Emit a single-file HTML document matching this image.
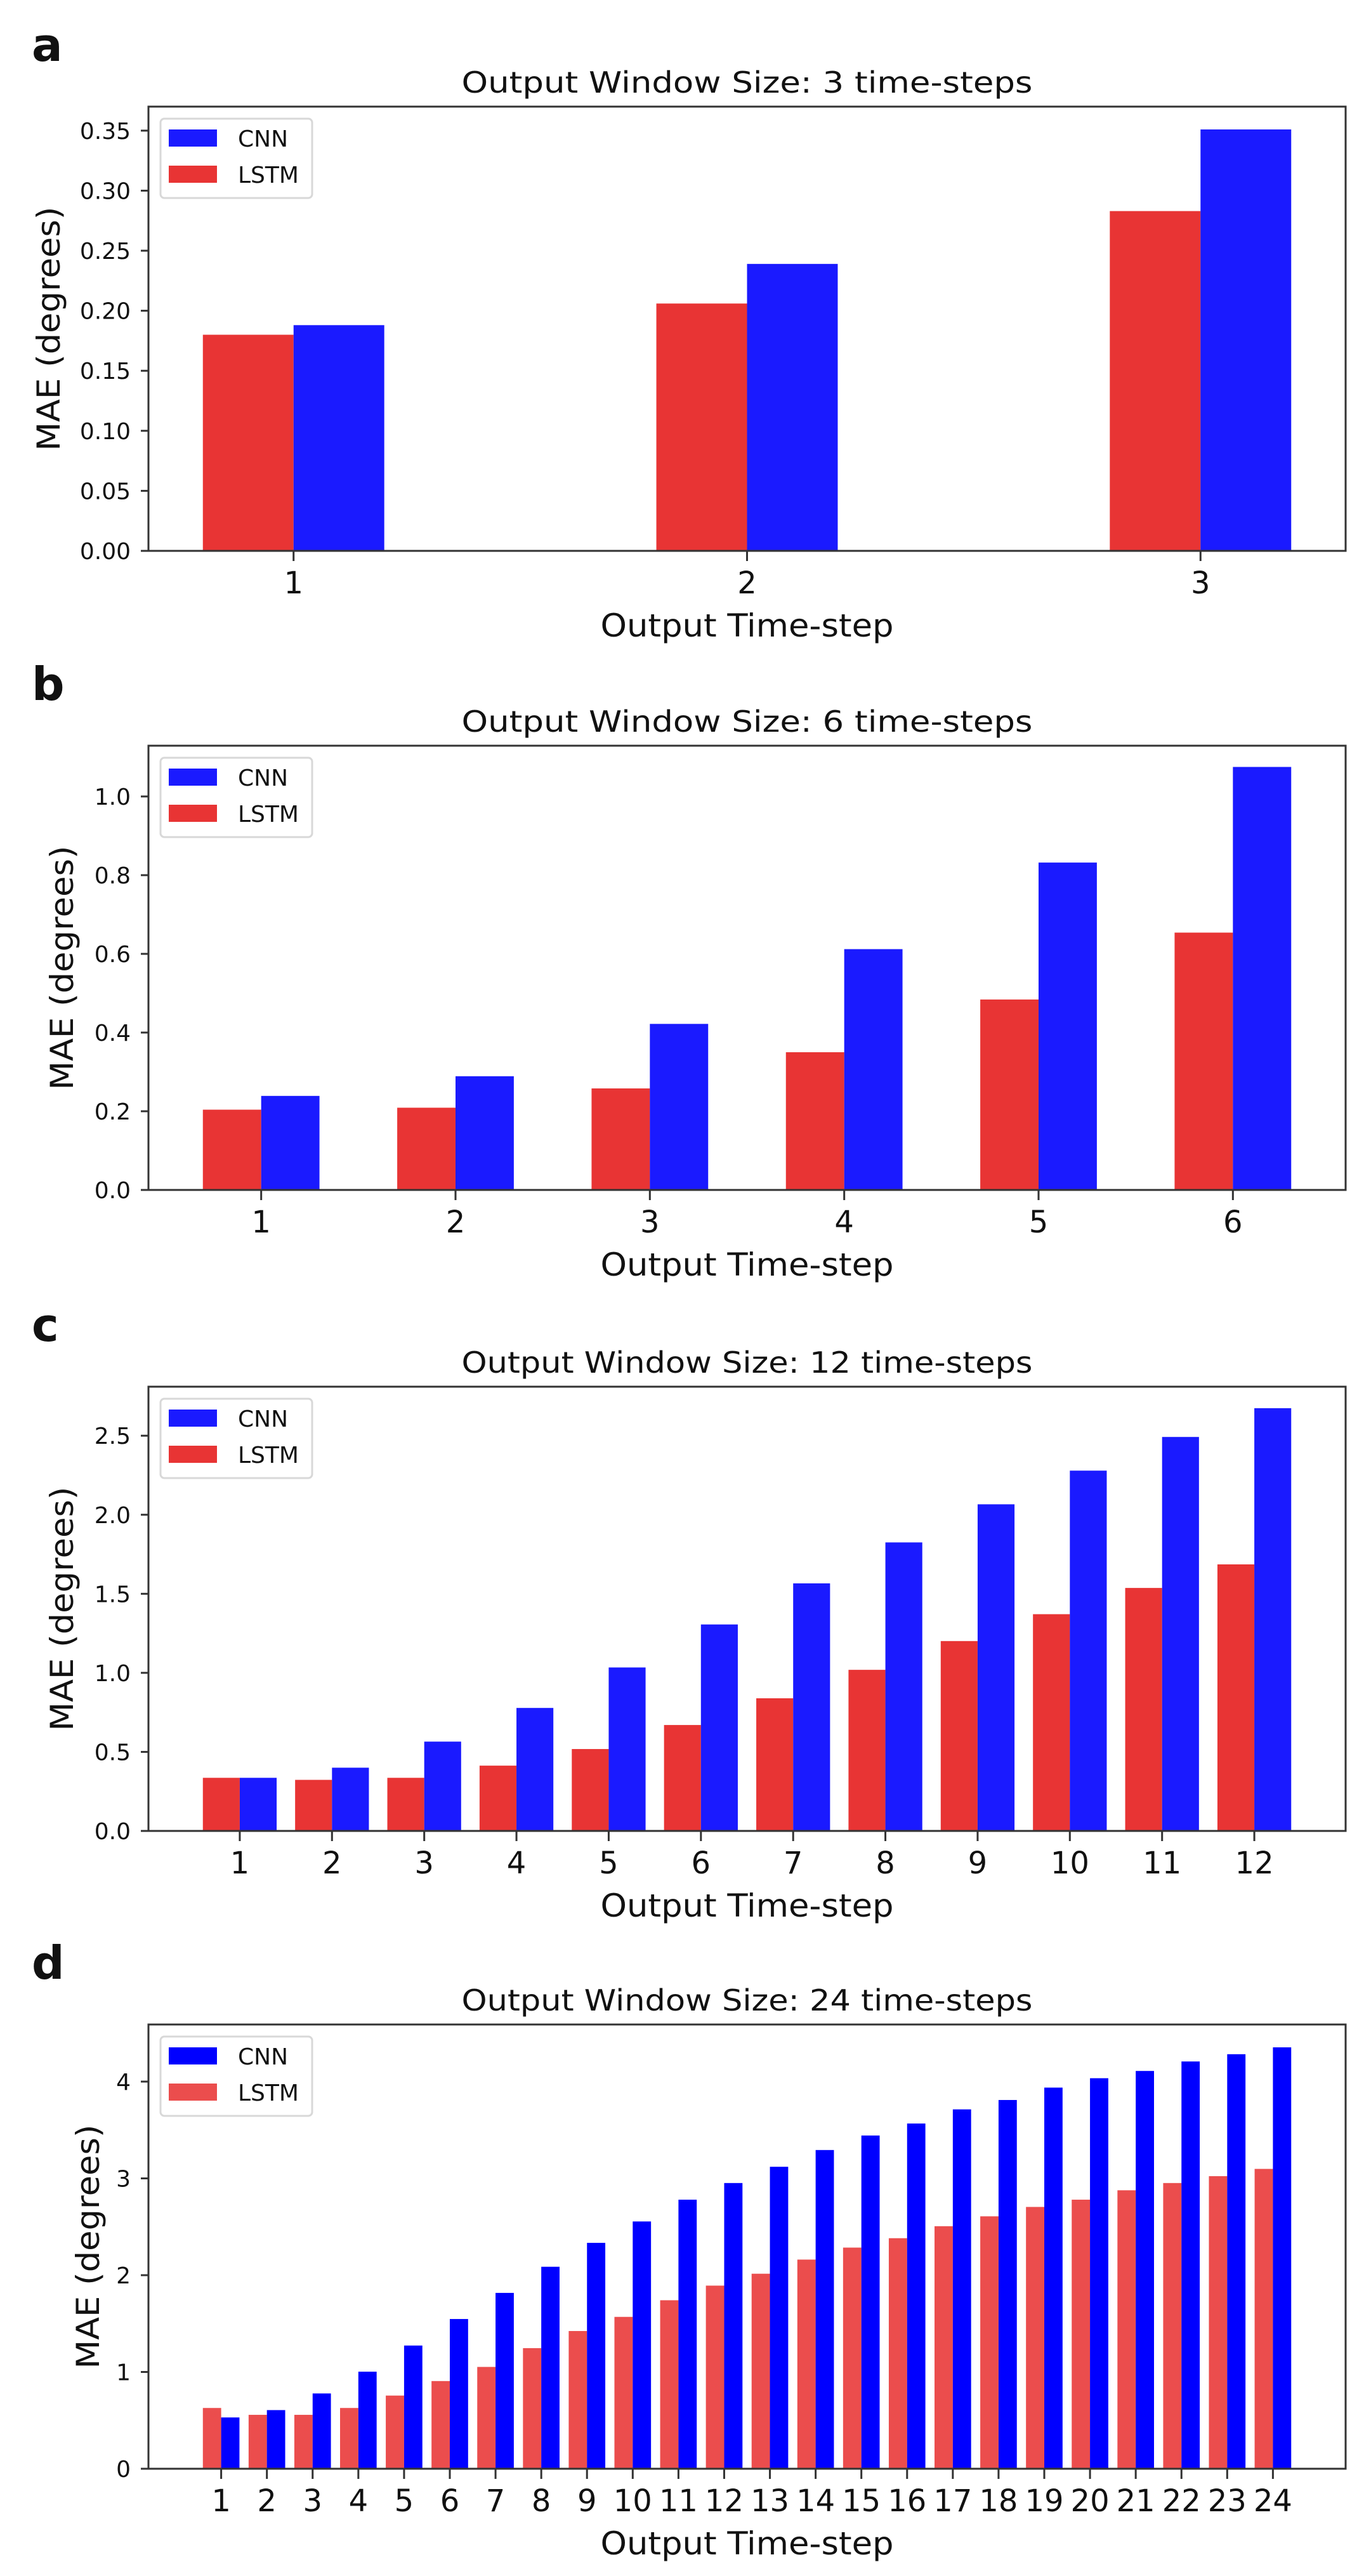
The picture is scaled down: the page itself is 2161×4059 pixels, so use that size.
<!DOCTYPE html>
<html><head><meta charset="utf-8"><style>
html,body{margin:0;padding:0;background:#fff;}
svg{display:block;}
text{font-family:"DejaVu Sans","Liberation Sans",sans-serif;fill:#111;}
</style></head><body>
<svg id="fig" width="2161" height="4059" viewBox="0 0 2161 4059" xmlns="http://www.w3.org/2000/svg"></svg>
<script>
// Panel a: window 3
const catsA = [1, 2, 3];
const lstmA = [0.180, 0.206, 0.283];
const cnnA = [0.188, 0.239, 0.351];
const ticksA = [0, 0.05, 0.10, 0.15, 0.20, 0.25, 0.30, 0.35];
const tickLabelsA = ["0.00","0.05","0.10","0.15","0.20","0.25","0.30","0.35"];
// Panel b: window 6
const catsB = [1, 2, 3, 4, 5, 6];
const lstmB = [0.204, 0.209, 0.258, 0.350, 0.484, 0.654];
const cnnB = [0.239, 0.289, 0.422, 0.612, 0.832, 1.075];
const ticksB = [0, 0.2, 0.4, 0.6, 0.8, 1.0];
const tickLabelsB = ["0.0","0.2","0.4","0.6","0.8","1.0"];
// Panel c: window 12
const catsC = [1,2,3,4,5,6,7,8,9,10,11,12];
const lstmC = [0.336, 0.323, 0.336, 0.413, 0.518, 0.670, 0.839, 1.019, 1.201, 1.371, 1.537, 1.686];
const cnnC = [0.336, 0.400, 0.565, 0.778, 1.034, 1.306, 1.566, 1.825, 2.066, 2.279, 2.492, 2.674];
const ticksC = [0, 0.5, 1.0, 1.5, 2.0, 2.5];
const tickLabelsC = ["0.0","0.5","1.0","1.5","2.0","2.5"];
// Panel d: window 24
const catsD = [1,2,3,4,5,6,7,8,9,10,11,12,13,14,15,16,17,18,19,20,21,22,23,24];
const lstmD = [0.628, 0.557, 0.557, 0.628, 0.756, 0.906, 1.052, 1.246, 1.423, 1.569, 1.741, 1.892, 2.015, 2.161, 2.285, 2.382, 2.506, 2.608, 2.705, 2.780, 2.877, 2.952, 3.023, 3.098];
const cnnD = [0.530, 0.606, 0.778, 1.003, 1.273, 1.547, 1.817, 2.087, 2.334, 2.555, 2.780, 2.952, 3.120, 3.293, 3.443, 3.567, 3.713, 3.810, 3.938, 4.035, 4.110, 4.208, 4.283, 4.354];
const ticksD = [0, 1, 2, 3, 4];
const tickLabelsD = ["0","1","2","3","4"];

const NS = "http://www.w3.org/2000/svg";
const svg = document.getElementById('fig');
function mk(tag, attrs, parent, txt){
  const e = document.createElementNS(NS, tag);
  for (const k in attrs) e.setAttribute(k, attrs[k]);
  if (txt !== undefined) e.textContent = txt;
  (parent || svg).appendChild(e);
  return e;
}

function panel(cfg){
  const g = mk('g', {});
  
  
  const L = 234, R = 2121, T = cfg.top, B = cfg.top + 700;
  const n = cfg.cats.length;
  const lo = cfg.cats[0] - cfg.w, hi = cfg.cats[n-1] + cfg.w;
  const m = (hi - lo) * 0.05;
  const xmin = lo - m, xmax = hi + m;
  const sx = v => L + (v - xmin) / (xmax - xmin) * (R - L);
  const sy = v => B - v / cfg.ymax * (B - T);

  const lt = mk('text', {x: 50, y: cfg.top - 72, 'font-size': 72, 'font-weight': 'bold', 'font-family': '"Liberation Sans",sans-serif'}, g, cfg.letter);
  
  

  const tt = mk('text', {x: (L+R)/2, y: T - 22, 'font-size': 46, 'text-anchor': 'middle', textLength: 900, lengthAdjust: 'spacingAndGlyphs'}, g, cfg.title);
  
  

  for (let i = 0; i < n; i++) {
    const c = cfg.cats[i];
    const r = mk('rect', {x: sx(c - cfg.w), y: sy(cfg.lstm[i]), width: sx(c) - sx(c - cfg.w), height: B - sy(cfg.lstm[i]), fill: cfg.red}, g);
    
    
    const b = mk('rect', {x: sx(c), y: sy(cfg.cnn[i]), width: sx(c + cfg.w) - sx(c), height: B - sy(cfg.cnn[i]), fill: cfg.blue}, g);
    
    
  }

  const fr = mk('rect', {x: L, y: T, width: R - L, height: B - T, fill: 'none', stroke: '#333', 'stroke-width': 3}, g);
  
  

  for (let i = 0; i < cfg.ticks.length; i++) {
    const y = sy(cfg.ticks[i]);
    mk('line', {x1: L - 12, x2: L, y1: y, y2: y, stroke: '#333', 'stroke-width': 3}, g);
    const t = mk('text', {x: L - 28, y: y + 13, 'font-size': 36, 'text-anchor': 'end'}, g, cfg.tickLabels[i]);
    
    
  }
  for (let i = 0; i < n; i++) {
    const x = sx(cfg.cats[i]);
    mk('line', {x1: x, x2: x, y1: B, y2: B + 16, stroke: '#333', 'stroke-width': 3}, g);
    const t = mk('text', {x: x, y: B + 67, 'font-size': 48, 'text-anchor': 'middle'}, g, String(cfg.cats[i]));
    
    
  }
  const xl = mk('text', {x: (L+R)/2, y: B + 135, 'font-size': 50, 'text-anchor': 'middle', textLength: 462, lengthAdjust: 'spacingAndGlyphs'}, g, 'Output Time-step');
  
  
  const yl = mk('text', {x: 0, y: 0, 'font-size': 50, 'text-anchor': 'middle', textLength: 385, lengthAdjust: 'spacingAndGlyphs', transform: 'translate(' + (cfg.ylx + 18) + ',' + ((T+B)/2) + ') rotate(-90)'}, g, 'MAE (degrees)');
  
  

  const lg = mk('g', {}, g);
  
  
  mk('rect', {x: 253, y: T + 19, width: 239, height: 125, rx: 6, fill: '#fff', stroke: '#d8d8d8', 'stroke-width': 3}, lg);
  mk('rect', {x: 266, y: T + 36, width: 76, height: 27, fill: cfg.blue}, lg);
  mk('rect', {x: 266, y: T + 93, width: 76, height: 27, fill: cfg.red}, lg);
  const e1 = mk('text', {x: 375, y: T + 63, 'font-size': 36}, lg, 'CNN');
  
  
  const e2 = mk('text', {x: 375, y: T + 120, 'font-size': 36}, lg, 'LSTM');
  
  
}

panel({letter:'a', top:168, title:'Output Window Size: 3 time-steps', cats:catsA, lstm:lstmA, cnn:cnnA, ticks:ticksA, tickLabels:tickLabelsA, ymax:0.370, w:0.2, red:'#e83434', blue:'#1a1aff', ylx:76});
panel({letter:'b', top:1175, title:'Output Window Size: 6 time-steps', cats:catsB, lstm:lstmB, cnn:cnnB, ticks:ticksB, tickLabels:tickLabelsB, ymax:1.129, w:0.3, red:'#e83434', blue:'#1a1aff', ylx:97});
panel({letter:'c', top:2185, title:'Output Window Size: 12 time-steps', cats:catsC, lstm:lstmC, cnn:cnnC, ticks:ticksC, tickLabels:tickLabelsC, ymax:2.81, w:0.4, red:'#e83434', blue:'#1a1aff', ylx:97});
panel({letter:'d', top:3190, title:'Output Window Size: 24 time-steps', cats:catsD, lstm:lstmD, cnn:cnnD, ticks:ticksD, tickLabels:tickLabelsD, ymax:4.59, w:0.4, red:'#eb4d4d', blue:'#0000ff', ylx:138});
</script>
</body></html>
